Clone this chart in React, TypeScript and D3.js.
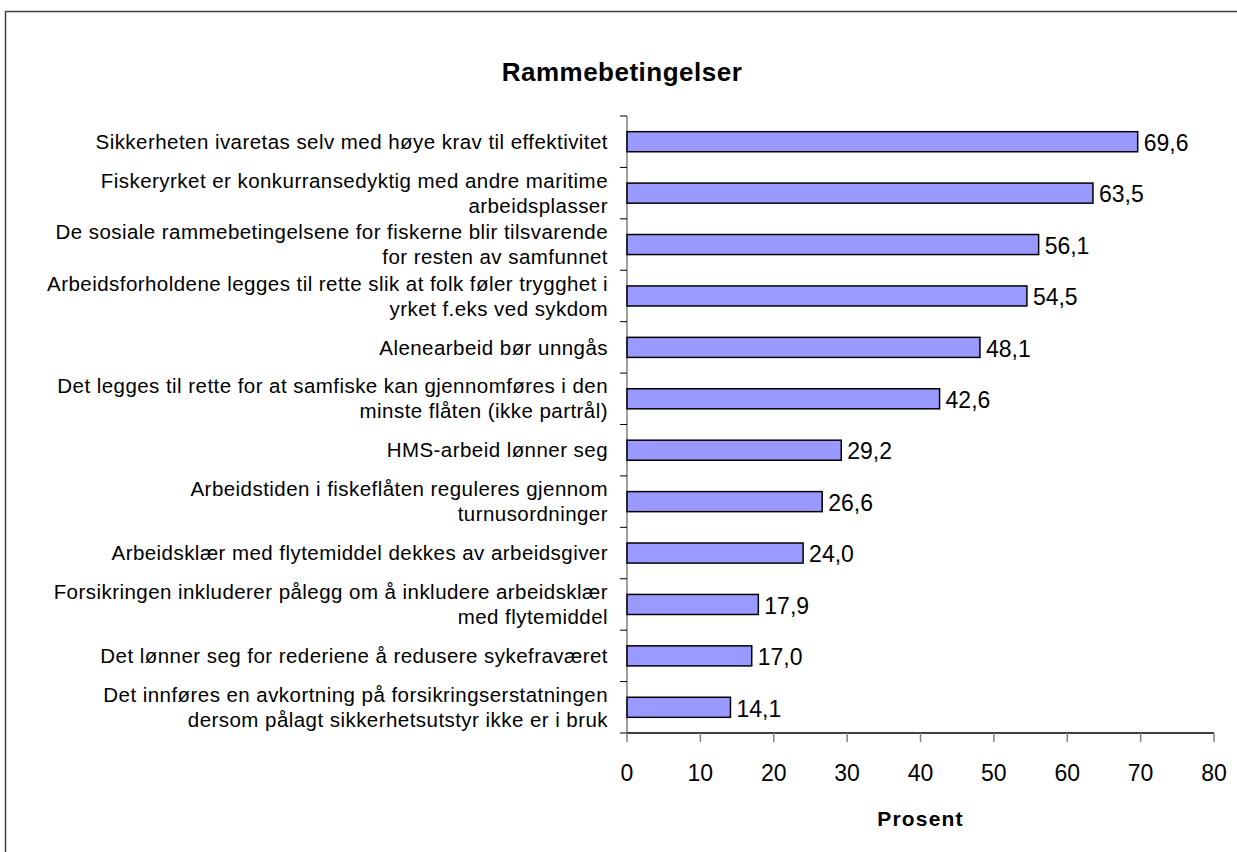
import React from "react";
import * as d3 from "d3";

const categories: string[][] = [
  ["Sikkerheten ivaretas selv med høye krav til effektivitet"],
  ["Fiskeryrket er konkurransedyktig med andre maritime", "arbeidsplasser"],
  ["De sosiale rammebetingelsene for fiskerne blir tilsvarende", "for resten av samfunnet"],
  ["Arbeidsforholdene legges til rette slik at folk føler trygghet i", "yrket f.eks ved sykdom"],
  ["Alenearbeid bør unngås"],
  ["Det legges til rette for at samfiske kan gjennomføres i den", "minste flåten (ikke partrål)"],
  ["HMS-arbeid lønner seg"],
  ["Arbeidstiden i fiskeflåten reguleres gjennom", "turnusordninger"],
  ["Arbeidsklær med flytemiddel dekkes av arbeidsgiver"],
  ["Forsikringen inkluderer pålegg om å inkludere arbeidsklær", "med flytemiddel"],
  ["Det lønner seg for rederiene å redusere sykefraværet"],
  ["Det innføres en avkortning på forsikringserstatningen", "dersom pålagt sikkerhetsutstyr ikke er i bruk"],
];
const values: number[] = [69.6, 63.5, 56.1, 54.5, 48.1, 42.6, 29.2, 26.6, 24.0, 17.9, 17.0, 14.1];
const xTicks: number[] = [0, 10, 20, 30, 40, 50, 60, 70, 80];
const title = "Rammebetingelser";
const xTitle = "Prosent";

const W = 1237;
const H = 852;
const left = 627;
const right = 1214;
const top = 116;
const bottom = 733;

export default function App() {
  const x = d3.scaleLinear().domain([0, 80]).range([left, right]);
  const idx = categories.map((_, i) => String(i));
  const y = d3.scaleBand().domain(idx).range([top, bottom]).paddingInner(0.61).paddingOuter(0.305);
  const fmt = (v: number) => d3.format(".1f")(v).replace(".", ",");
  const font = "'Liberation Sans', Arial, sans-serif";
  const boundaries = d3.range(categories.length + 1).map((i) => top + i * ((bottom - top) / categories.length));

  return (
    <svg width={W} height={H} style={{ position: "absolute", left: 0, top: 0 }} fontFamily={font}>
      <rect x={0} y={0} width={W} height={H} fill="#fff" />
      <rect x={5.5} y={11.5} width={W + 20} height={H + 20} fill="none" stroke="#404040" strokeWidth={1.5} />
      <text x={622} y={81} textAnchor="middle" fontSize={26} fontWeight="bold" letterSpacing={0.5}>
        {title}
      </text>
      {/* y axis */}
      <line x1={left} x2={left} y1={top} y2={bottom} stroke="#808080" strokeWidth={1.5} />
      {boundaries.map((b, i) => (
        <line key={"yt" + i} x1={left - 7} x2={left} y1={b} y2={b} stroke="#000" strokeWidth={1} />
      ))}
      {/* bars */}
      {values.map((v, i) => (
        <rect
          key={"b" + i}
          x={x(0)}
          y={y(String(i))!}
          width={x(v) - x(0)}
          height={y.bandwidth()}
          fill="#9999FF"
          stroke="#000"
          strokeWidth={1.5}
        />
      ))}
      {values.map((v, i) => (
        <text
          key={"v" + i}
          x={x(v) + 6}
          y={y(String(i))! + y.bandwidth() / 2 + 1}
          dy="0.36em"
          fontSize={23}
        >
          {fmt(v)}
        </text>
      ))}
      {/* category labels */}
      {categories.map((lines, i) => {
        const cy = y(String(i))! + y.bandwidth() / 2;
        const lh = 25;
        const start = cy - ((lines.length - 1) * lh) / 2;
        return (
          <text key={"c" + i} textAnchor="end" fontSize={20.5} letterSpacing={0.45} fill="#000">
            {lines.map((ln, j) => (
              <tspan key={j} x={608} y={start + j * lh} dy="0.35em">
                {ln}
              </tspan>
            ))}
          </text>
        );
      })}
      {/* x axis */}
      <line x1={left} x2={right} y1={bottom} y2={bottom} stroke="#000" strokeWidth={1.5} />
      {xTicks.map((t) => (
        <g key={"xt" + t}>
          <line x1={x(t)} x2={x(t)} y1={bottom} y2={bottom + 9} stroke="#808080" strokeWidth={1.5} />
          <text x={x(t)} y={773} dy="0.36em" textAnchor="middle" fontSize={23}>
            {t}
          </text>
        </g>
      ))}
      <text x={(left + right) / 2} y={818} dy="0.36em" textAnchor="middle" fontSize={21} fontWeight="bold" letterSpacing={1.2}>
        {xTitle}
      </text>
    </svg>
  );
}
